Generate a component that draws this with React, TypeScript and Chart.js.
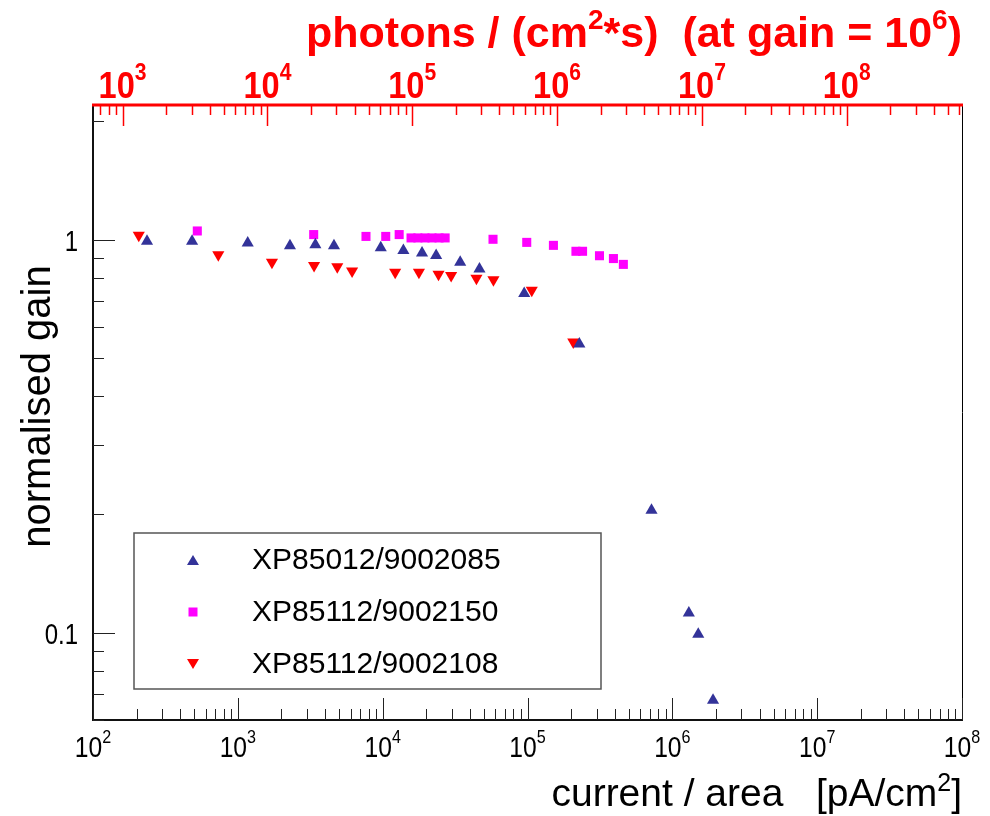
import React, { useEffect, useRef } from 'react';
import { Chart, registerables } from 'chart.js';

Chart.register(...registerables);

// ---------- data ----------
const seriesNames = ['XP85012/9002085', 'XP85112/9002150', 'XP85112/9002108'];
const seriesColors = ['#333399', '#ff00ff', '#ff0000'];

// XP85012/9002085 (blue triangles)
const blueX = [236, 483, 1170, 2290, 3430, 4610, 9700, 13900, 18700, 23400, 34300, 46600, 94900, 228000, 718000, 1300000, 1510000, 1910000];
const blueY = [0.99, 0.99, 0.98, 0.965, 0.97, 0.965, 0.953, 0.938, 0.925, 0.911, 0.876, 0.842, 0.729, 0.543, 0.205, 0.1123, 0.0992, 0.0674];

// XP85112/9002150 (magenta squares)
const magX = [525, 3340, 7670, 10500, 13000, 15700, 17500, 19600, 21900, 24500, 27000, 57800, 98800, 151000, 216000, 240000, 314000, 392000, 459000];
const magY = [1.052, 1.03, 1.019, 1.019, 1.03, 1.01, 1.01, 1.01, 1.01, 1.01, 1.01, 1.002, 0.984, 0.967, 0.934, 0.934, 0.91, 0.895, 0.865];

// XP85112/9002108 (red down-triangles)
const redX = [207, 733, 1720, 3360, 4860, 6150, 12200, 17800, 24300, 29700, 44400, 58200, 107000, 207000];
const redY = [1.026, 0.915, 0.876, 0.86, 0.853, 0.832, 0.826, 0.826, 0.817, 0.811, 0.797, 0.791, 0.743, 0.549];

// axis ranges
const xRange = [1e2, 1e8];
const yRange = [0.06, 2.2];
const photonFactor = 6.25; // photons/(cm2 s) per pA/cm2 at gain 1e6
const yTickLabels = ['1', '0.1'];
const yTickValues = [1, 0.1];

const FONT = '"Liberation Sans", Arial, Helvetica, sans-serif';

type Seg = { t: string; sup?: boolean };

function drawSegs(ctx: CanvasRenderingContext2D, segs: Seg[], x: number, y: number, size: number, supSize: number, supRise: number, bold: boolean, align: 'left' | 'center' | 'right', sx = 1) {
  const f = (s: number) => `${bold ? 'bold ' : ''}${s}px ${FONT}`;
  let total = 0;
  const widths = segs.map((s) => {
    ctx.font = f(s.sup ? supSize : size);
    const w = ctx.measureText(s.t).width * sx;
    total += w;
    return w;
  });
  let cx = align === 'left' ? x : align === 'center' ? x - total / 2 : x - total;
  ctx.textAlign = 'left';
  ctx.textBaseline = 'alphabetic';
  segs.forEach((s, i) => {
    ctx.font = f(s.sup ? supSize : size);
    ctx.save();
    ctx.translate(cx, s.sup ? y - supRise : y);
    ctx.scale(sx, 1);
    ctx.fillText(s.t, 0, 0);
    ctx.restore();
    cx += widths[i];
  });
}

function logTicks(min: number, max: number) {
  const out: { v: number; major: boolean; e: number }[] = [];
  for (let e = Math.floor(Math.log10(min)) - 1; e <= Math.ceil(Math.log10(max)); e++) {
    for (let k = 1; k <= 9; k++) {
      const v = k * Math.pow(10, e);
      if (v >= min * 0.9999 && v <= max * 1.0001) out.push({ v, major: k === 1, e });
    }
  }
  return out;
}

function drawMarker(ctx: CanvasRenderingContext2D, kind: number, x: number, y: number, color: string) {
  ctx.fillStyle = color;
  ctx.beginPath();
  if (kind === 0) {
    ctx.moveTo(x, y - 5);
    ctx.lineTo(x + 6, y + 5);
    ctx.lineTo(x - 6, y + 5);
  } else if (kind === 1) {
    ctx.rect(x - 4.5, y - 4.5, 9, 9);
  } else {
    ctx.moveTo(x - 6, y - 5);
    ctx.lineTo(x + 6, y - 5);
    ctx.lineTo(x, y + 5);
  }
  ctx.closePath();
  ctx.fill();
}

const rootAxesPlugin = {
  id: 'rootAxes',
  afterDraw(chart: any) {
    const ctx: CanvasRenderingContext2D = chart.ctx;
    const ca = chart.chartArea;
    const xs = chart.scales.x;
    const ys = chart.scales.y;
    const xt = chart.scales.x2;
    ctx.save();

    // frame
    ctx.strokeStyle = '#000';
    ctx.lineWidth = 1;
    ctx.beginPath();
    ctx.moveTo(ca.right + 0.5, ca.top);
    ctx.lineTo(ca.right + 0.5, ca.bottom);
    ctx.stroke();
    ctx.strokeStyle = '#111';
    ctx.lineWidth = 2;
    ctx.beginPath();
    ctx.moveTo(ca.left, ca.top);
    ctx.lineTo(ca.left, ca.bottom);
    ctx.lineTo(ca.right + 1, ca.bottom);
    ctx.stroke();

    // bottom ticks
    ctx.lineWidth = 1;
    ctx.strokeStyle = '#222';
    for (const t of logTicks(xs.min, xs.max)) {
      const px = Math.round(xs.getPixelForValue(t.v)) + 0.5;
      const len = t.major ? 22 : 11;
      ctx.beginPath();
      ctx.moveTo(px, ca.bottom);
      ctx.lineTo(px, ca.bottom - len);
      ctx.stroke();
    }
    // left ticks
    for (const t of logTicks(ys.min, ys.max)) {
      const py = Math.round(ys.getPixelForValue(t.v)) + 0.5;
      const len = t.major ? 22 : 11;
      ctx.beginPath();
      ctx.moveTo(ca.left, py);
      ctx.lineTo(ca.left + len, py);
      ctx.stroke();
    }

    // bottom labels
    ctx.fillStyle = '#000';
    for (const t of logTicks(xs.min, xs.max)) {
      if (!t.major) continue;
      const px = xs.getPixelForValue(t.v);
      drawSegs(ctx, [{ t: '10' }, { t: String(t.e), sup: true }], px, 757, 29, 19, 14, false, 'center', 0.85);
    }
    // left labels
    yTickValues.forEach((v, i) => {
      const py = ys.getPixelForValue(v) + 11;
      drawSegs(ctx, [{ t: yTickLabels[i] }], ca.left - 15, py, 30, 20, 0, false, 'right', 0.8);
    });

    // top axis (red)
    ctx.strokeStyle = '#ff0000';
    ctx.lineWidth = 1.5;
    for (const t of logTicks(xt.min, xt.max)) {
      const px = Math.round(xt.getPixelForValue(t.v)) + 0.5;
      const len = t.major ? 21 : 10;
      ctx.beginPath();
      ctx.moveTo(px, ca.top);
      ctx.lineTo(px, ca.top + len);
      ctx.stroke();
    }
    ctx.lineWidth = 3;
    ctx.beginPath();
    ctx.moveTo(ca.left - 1, ca.top);
    ctx.lineTo(ca.right + 1, ca.top);
    ctx.stroke();
    ctx.fillStyle = '#ff0000';
    for (const t of logTicks(xt.min, xt.max)) {
      if (!t.major) continue;
      const px = xt.getPixelForValue(t.v);
      drawSegs(ctx, [{ t: '10' }, { t: String(t.e), sup: true }], px, 98, 37, 24, 18, true, 'center', 0.88);
    }
    // top title
    drawSegs(
      ctx,
      [{ t: 'photons / (cm' }, { t: '2', sup: true }, { t: '*s)  (at gain = 10' }, { t: '6', sup: true }, { t: ')' }],
      ca.right,
      47,
      43,
      28,
      18,
      true,
      'right'
    );

    // x title
    ctx.fillStyle = '#000';
    drawSegs(
      ctx,
      [{ t: 'current / area   [pA/cm' }, { t: '2', sup: true }, { t: ']' }],
      ca.right,
      806,
      39,
      25,
      15,
      false,
      'right'
    );

    // y title
    ctx.save();
    ctx.translate(50, (ca.top + ca.bottom) / 2 - 6);
    ctx.rotate(-Math.PI / 2);
    ctx.font = `40px ${FONT}`;
    ctx.textAlign = 'center';
    ctx.textBaseline = 'alphabetic';
    ctx.fillText('normalised gain', 0, 0);
    ctx.restore();

    // legend
    const lx = 134, ly = 533, lw = 467, lh = 156;
    ctx.fillStyle = '#fff';
    ctx.fillRect(lx, ly, lw, lh);
    ctx.strokeStyle = '#555';
    ctx.lineWidth = 1.5;
    ctx.strokeRect(lx, ly, lw, lh);
    const rowY = [560, 612, 664];
    seriesNames.forEach((name, i) => {
      drawMarker(ctx, i, 193, rowY[i], seriesColors[i]);
      ctx.fillStyle = '#000';
      ctx.font = `30px ${FONT}`;
      ctx.textAlign = 'left';
      ctx.textBaseline = 'middle';
      ctx.fillText(name, 252, rowY[i] + 1);
    });

    ctx.restore();
  },
};

export default function App() {
  const canvasRef = useRef<HTMLCanvasElement | null>(null);

  useEffect(() => {
    document.body.style.margin = '0';
    const canvas = canvasRef.current;
    if (!canvas) return;
    const mk = (xs: number[], ys: number[]) => xs.map((x, i) => ({ x, y: ys[i] }));
    const chart = new Chart(canvas, {
      type: 'scatter',
      data: {
        datasets: [
          {
            label: seriesNames[0],
            data: mk(blueX, blueY),
            pointStyle: 'triangle',
            pointRadius: 7,
            pointBorderWidth: 0,
            backgroundColor: seriesColors[0],
            borderColor: seriesColors[0],
          },
          {
            label: seriesNames[1],
            data: mk(magX, magY),
            pointStyle: 'rect',
            pointRadius: 6.4,
            pointBorderWidth: 0,
            backgroundColor: seriesColors[1],
            borderColor: seriesColors[1],
          },
          {
            label: seriesNames[2],
            data: mk(redX, redY),
            pointStyle: 'triangle',
            pointRotation: 180,
            pointRadius: 7,
            pointBorderWidth: 0,
            backgroundColor: seriesColors[2],
            borderColor: seriesColors[2],
          },
        ],
      },
      options: {
        responsive: false,
        animation: false,
        devicePixelRatio: 1,
        layout: { padding: { left: 93, right: 28, top: 105, bottom: 96 } },
        plugins: { legend: { display: false }, tooltip: { enabled: false } },
        scales: {
          x: { type: 'logarithmic', min: xRange[0], max: xRange[1], display: false },
          x2: { type: 'logarithmic', axis: 'x', position: 'top', min: xRange[0] * photonFactor, max: xRange[1] * photonFactor, display: false },
          y: { type: 'logarithmic', min: yRange[0], max: yRange[1], display: false },
        },
      },
      plugins: [rootAxesPlugin],
    } as any);
    return () => chart.destroy();
  }, []);

  return (
    <div style={{ width: 990, height: 816, background: '#fff' }}>
      <canvas ref={canvasRef} width={990} height={816} style={{ display: 'block' }} />
    </div>
  );
}
